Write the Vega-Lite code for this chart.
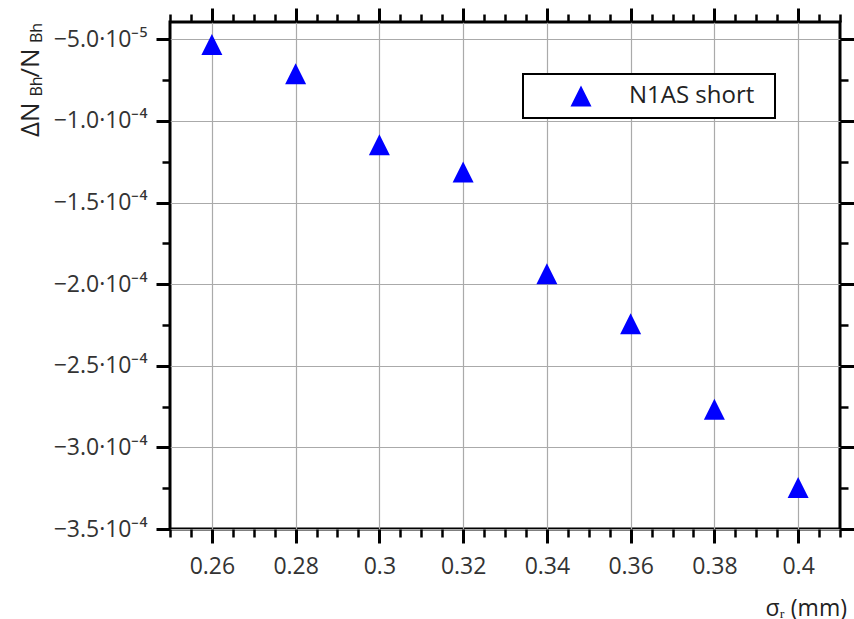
{
  "$schema": "https://vega.github.io/schema/vega-lite/v6.json",
  "width": 670,
  "height": 507,
  "autosize": "none",
  "padding": {"left": 170, "top": 22, "right": 14, "bottom": 90},
  "background": "white",
  "config": {
    "view": {"stroke": "black", "strokeWidth": 3},
    "font": "Open Sans",
    "legend": {"strokeWidth": 2},
    "axis": {
      "domain": false,
      "tickColor": "black",
      "labelFont": "Open Sans",
      "titleFont": "Open Sans",
      "labelColor": "#333333",
      "titleColor": "#222222",
      "titleFontWeight": "normal",
      "gridColor": "#aaaaaa",
      "gridWidth": 1.2
    }
  },
  "data": {
    "values": [
      {"sigma": 0.26, "dN": -0.0000532, "series": "N1AS short"},
      {"sigma": 0.28, "dN": -0.0000711, "series": "N1AS short"},
      {"sigma": 0.30, "dN": -0.0001146, "series": "N1AS short"},
      {"sigma": 0.32, "dN": -0.0001313, "series": "N1AS short"},
      {"sigma": 0.34, "dN": -0.0001936, "series": "N1AS short"},
      {"sigma": 0.36, "dN": -0.0002242, "series": "N1AS short"},
      {"sigma": 0.38, "dN": -0.0002767, "series": "N1AS short"},
      {"sigma": 0.40, "dN": -0.0003245, "series": "N1AS short"}
    ]
  },
  "resolve": {"scale": {"x": "independent", "y": "independent"}},
  "layer": [
    {
      "mark": {"type": "point", "filled": true, "opacity": 1, "size": 441, "strokeWidth": 0},
      "encoding": {
        "x": {
          "field": "sigma", "type": "quantitative",
          "scale": {"domain": [0.25, 0.41], "nice": false, "zero": false},
          "axis": {
            "orient": "bottom",
            "values": [0.25,0.255,0.26,0.265,0.27,0.275,0.28,0.285,0.29,0.295,0.3,0.305,0.31,0.315,0.32,0.325,0.33,0.335,0.34,0.345,0.35,0.355,0.36,0.365,0.37,0.375,0.38,0.385,0.39,0.395,0.4,0.405,0.41],
            "tickSize": {"condition": {"test": "abs(datum.value*50 - round(datum.value*50)) < 0.001", "value": 14}, "value": 8},
            "tickWidth": {"condition": {"test": "abs(datum.value*50 - round(datum.value*50)) < 0.001", "value": 3}, "value": 2.5},
            "gridOpacity": {"condition": {"test": "abs(datum.value*50 - round(datum.value*50)) < 0.001", "value": 1}, "value": 0},
            "grid": true,
            "labelExpr": "abs(datum.value*50 - round(datum.value*50)) < 0.001 ? format(datum.value, '~g') : ''",
            "labelFontSize": 23,
            "labelPadding": 12,
            "labelBaseline": "top",
            "title": "σᵣ (mm)",
            "titleFontSize": 23,
            "titleAlign": "left",
            "titleAnchor": "start",
            "titleBaseline": "alphabetic",
            "titleX": 595,
            "titleY": 86
          }
        },
        "y": {
          "field": "dN", "type": "quantitative",
          "scale": {"domain": [-0.00035, -0.0000394], "nice": false, "zero": false},
          "axis": {
            "orient": "left",
            "values": [-0.00035,-0.000325,-0.0003,-0.000275,-0.00025,-0.000225,-0.0002,-0.000175,-0.00015,-0.000125,-0.0001,-0.000075,-0.00005],
            "tickSize": {"condition": {"test": "abs(datum.value*20000 - round(datum.value*20000)) < 0.001", "value": 14}, "value": 8},
            "tickWidth": {"condition": {"test": "abs(datum.value*20000 - round(datum.value*20000)) < 0.001", "value": 3}, "value": 2.5},
            "gridOpacity": {"condition": {"test": "abs(datum.value*20000 - round(datum.value*20000)) < 0.001", "value": 1}, "value": 0},
            "grid": true,
            "labelExpr": "abs(datum.value*20000 - round(datum.value*20000)) < 0.001 ? (datum.value > -0.00009 ? '−' + format(-datum.value*100000, '.1f') + '·10⁻⁵' : '−' + format(-datum.value*10000, '.1f') + '·10⁻⁴') : ''",
            "labelFontSize": 23,
            "labelPadding": 9,
            "title": "ΔN",
            "titleFontSize": 26,
            "titleAngle": -90,
            "titleAlign": "left",
            "titleAnchor": "start",
            "titleBaseline": "alphabetic",
            "titleX": -131.7,
            "titleY": 114.5
          }
        },
        "color": {
          "field": "series", "type": "nominal",
          "scale": {"range": ["#0000ff"]},
          "legend": {
            "orient": "none",
            "legendX": 353,
            "legendY": 52,
            "title": ".",
            "titleOrient": "right",
            "titleOpacity": 0,
            "titleFontSize": 10,
            "titlePadding": 8,
            "fillColor": "white",
            "strokeColor": "black",
            "padding": 10,
            "symbolOffset": 36,
            "symbolSize": 441,
            "symbolStrokeWidth": 0,
            "labelOffset": 36,
            "labelFontSize": 24,
            "labelColor": "#222222",
            "labelFont": "Open Sans"
          }
        },
        "shape": {
          "field": "series", "type": "nominal",
          "scale": {"range": ["M0,-1L1,1L-1,1Z"]},
          "legend": null
        }
      }
    },
    {
      "mark": {"type": "point", "opacity": 0},
      "encoding": {
        "x": {
          "field": "sigma", "type": "quantitative",
          "scale": {"domain": [0.25, 0.41], "nice": false, "zero": false},
          "axis": {
            "orient": "top",
            "values": [0.25,0.255,0.26,0.265,0.27,0.275,0.28,0.285,0.29,0.295,0.3,0.305,0.31,0.315,0.32,0.325,0.33,0.335,0.34,0.345,0.35,0.355,0.36,0.365,0.37,0.375,0.38,0.385,0.39,0.395,0.4,0.405,0.41],
            "tickSize": {"condition": {"test": "abs(datum.value*50 - round(datum.value*50)) < 0.001", "value": 14}, "value": 8},
            "tickWidth": {"condition": {"test": "abs(datum.value*50 - round(datum.value*50)) < 0.001", "value": 3}, "value": 2.5},
            "grid": false,
            "labels": false,
            "title": null
          }
        },
        "y": {
          "field": "dN", "type": "quantitative",
          "scale": {"domain": [-0.00035, -0.0000394], "nice": false, "zero": false},
          "axis": {
            "orient": "right",
            "values": [-0.00035,-0.000325,-0.0003,-0.000275,-0.00025,-0.000225,-0.0002,-0.000175,-0.00015,-0.000125,-0.0001,-0.000075,-0.00005],
            "tickSize": {"condition": {"test": "abs(datum.value*20000 - round(datum.value*20000)) < 0.001", "value": 14}, "value": 8},
            "tickWidth": {"condition": {"test": "abs(datum.value*20000 - round(datum.value*20000)) < 0.001", "value": 3}, "value": 2.5},
            "grid": false,
            "labels": false,
            "title": null
          }
        }
      }
    },
    {
      "mark": {"type": "point", "opacity": 0},
      "encoding": {
        "x": {"field": "sigma", "type": "quantitative", "scale": {"domain": [0.25, 0.41], "nice": false, "zero": false}, "axis": null},
        "y": {
          "field": "dN", "type": "quantitative",
          "scale": {"domain": [-0.00035, -0.0000394], "nice": false, "zero": false},
          "axis": {"orient": "left", "ticks": false, "labels": false, "grid": false, "domain": false,
            "title": "Bh", "titleFontSize": 16, "titleAngle": -90, "titleAlign": "left", "titleAnchor": "start", "titleBaseline": "alphabetic",
            "titleX": -128.3, "titleY": 74}
        }
      }
    },
    {
      "mark": {"type": "point", "opacity": 0},
      "encoding": {
        "x": {"field": "sigma", "type": "quantitative", "scale": {"domain": [0.25, 0.41], "nice": false, "zero": false}, "axis": null},
        "y": {
          "field": "dN", "type": "quantitative",
          "scale": {"domain": [-0.00035, -0.0000394], "nice": false, "zero": false},
          "axis": {"orient": "left", "ticks": false, "labels": false, "grid": false, "domain": false,
            "title": "/N", "titleFontSize": 26, "titleAngle": -90, "titleAlign": "left", "titleAnchor": "start", "titleBaseline": "alphabetic",
            "titleX": -131.7, "titleY": 55}
        }
      }
    },
    {
      "mark": {"type": "point", "opacity": 0},
      "encoding": {
        "x": {"field": "sigma", "type": "quantitative", "scale": {"domain": [0.25, 0.41], "nice": false, "zero": false}, "axis": null},
        "y": {
          "field": "dN", "type": "quantitative",
          "scale": {"domain": [-0.00035, -0.0000394], "nice": false, "zero": false},
          "axis": {"orient": "left", "ticks": false, "labels": false, "grid": false, "domain": false,
            "title": "Bh", "titleFontSize": 16, "titleAngle": -90, "titleAlign": "left", "titleAnchor": "start", "titleBaseline": "alphabetic",
            "titleX": -128.3, "titleY": 20.5}
        }
      }
    }
  ]
}
